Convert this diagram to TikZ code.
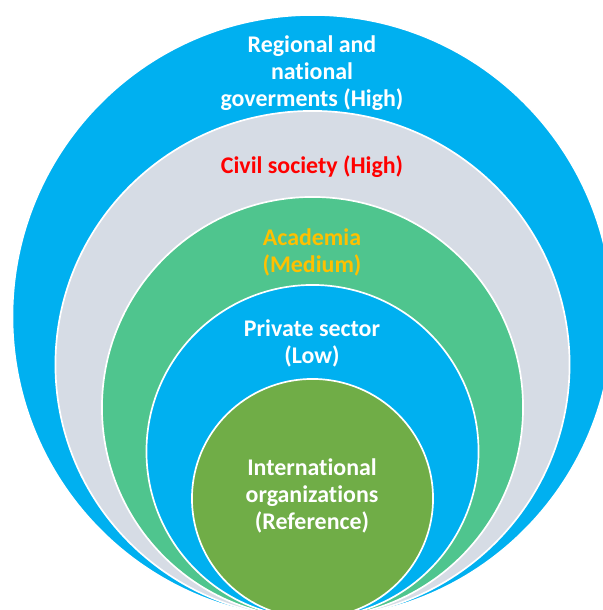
\documentclass[tikz,border=0pt]{standalone}
\usepackage{fontspec}
\setmainfont{Carlito}[Ligatures=NoCommon]
\usetikzlibrary{shapes.geometric}

\definecolor{govblue}{HTML}{00B0F0}
\definecolor{civilgray}{HTML}{D6DCE5}
\definecolor{acadgreen}{HTML}{4FC58E}
\definecolor{intlgreen}{HTML}{70AD47}
\definecolor{acadgold}{HTML}{FFC000}

\tikzset{
  ring/.style={shape=ellipse, draw=white, line width=1.2pt, inner sep=0pt},
  ringtext/.style={font=\bfseries\fontsize{17}{19.2}\selectfont, align=center, text=white}
}

\begin{document}
\begin{tikzpicture}[x=0.025cm,y=0.025cm]
\useasboundingbox (0,0) rectangle (603,610);
\clip (0,0) rectangle (603,610);

% rings, outermost first
\node[ring,fill=govblue,minimum width=15cm,minimum height=15.075cm](gov) at (312.5,293.5) {};
\node[ring,fill=civilgray,minimum width=12.85cm,minimum height=12.675cm](civil) at (312.5,245.5) {};
\node[ring,fill=acadgreen,minimum width=10.525cm,minimum height=10.525cm](acad) at (312.5,202.5) {};
\node[ring,fill=govblue,minimum width=8.3cm,minimum height=8.325cm](priv) at (312.5,158.5) {};
\node[ring,fill=intlgreen,minimum width=6.025cm,minimum height=5.975cm](intl) at (312.5,111.5) {};

% labels
\node[ringtext](govtext) at (312,536.5) {Regional and\\national\\goverments (High)};
\node[ringtext,text=red](civiltext) at (312,443) {Civil society (High)};
\node[ringtext,text=acadgold](acadtext) at (312,358) {Academia\\(Medium)};
\node[ringtext](privtext) at (312,266.5) {Private sector\\(Low)};
\node[ringtext](intltext) at (312,114) {International\\organizations\\(Reference)};
\end{tikzpicture}
\end{document}
